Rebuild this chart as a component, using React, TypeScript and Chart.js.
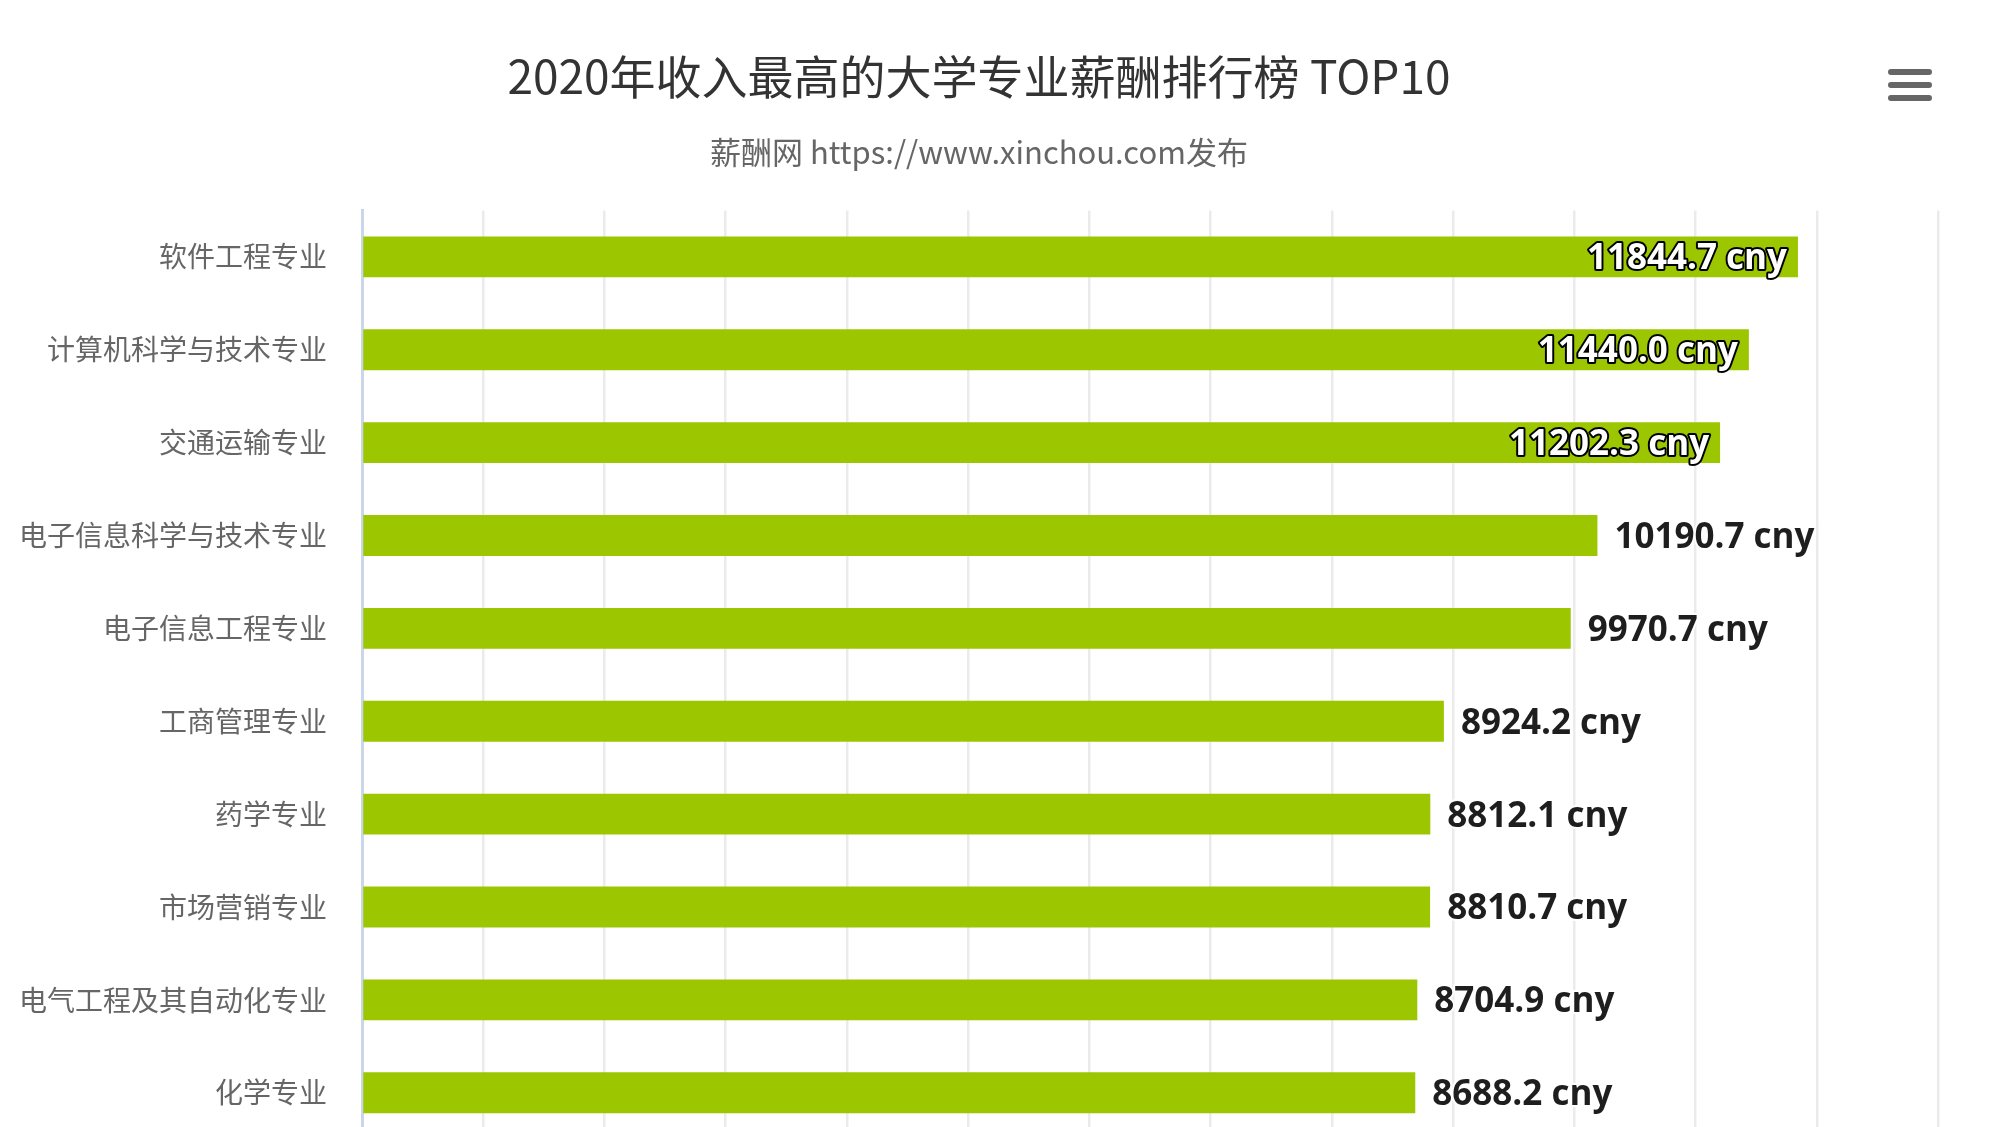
import React, { useEffect, useRef } from "react";
import { Chart, registerables } from "chart.js";

Chart.register(...registerables);

const titleText = "2020年收入最高的大学专业薪酬排行榜 TOP10";
const subtitleText = "薪酬网 https://www.xinchou.com发布";
const majors = [
  "软件工程专业",
  "计算机科学与技术专业",
  "交通运输专业",
  "电子信息科学与技术专业",
  "电子信息工程专业",
  "工商管理专业",
  "药学专业",
  "市场营销专业",
  "电气工程及其自动化专业",
  "化学专业",
];
const salaries = [11844.7, 11440.0, 11202.3, 10190.7, 9970.7, 8924.2, 8812.1, 8810.7, 8704.9, 8688.2];
const unitSuffix = " cny";
const axisMin = 0;
const axisMax = 13000;
const axisStep = 1000;

const CJK = '"Noto Sans CJK SC", "Noto Sans", sans-serif';
const LABEL_FONT = '"Open Sans", "Noto Sans", sans-serif';

const dataLabelPlugin = {
  id: "barValueLabels",
  afterDatasetsDraw(chart: any) {
    const ctx = chart.ctx;
    const meta = chart.getDatasetMeta(0);
    const area = chart.chartArea;
    const size = 35;
    ctx.save();
    ctx.font = `bold ${size}px ${LABEL_FONT}`;
    ctx.lineJoin = "round";
    meta.data.forEach((bar: any, i: number) => {
      const v = chart.data.datasets[0].data[i] as number;
      const text = v.toFixed(1) + unitSuffix;
      const w = ctx.measureText(text).width;
      const y = bar.y + size * 0.357;
      ctx.textBaseline = "alphabetic";
      if (bar.x + 17 + w > area.right - 25) {
        ctx.textAlign = "right";
        ctx.lineWidth = 4;
        ctx.strokeStyle = "#000";
        ctx.strokeText(text, bar.x - 11, y);
        ctx.fillStyle = "#fff";
        ctx.fillText(text, bar.x - 11, y);
      } else {
        ctx.textAlign = "left";
        ctx.lineWidth = 4;
        ctx.strokeStyle = "#fff";
        ctx.strokeText(text, bar.x + 17, y);
        ctx.fillStyle = "#1e1e1e";
        ctx.fillText(text, bar.x + 17, y);
      }
    });
    ctx.restore();
  },
};

const menuIconPlugin = {
  id: "menuIcon",
  afterDraw(chart: any) {
    const ctx = chart.ctx;
    ctx.save();
    ctx.strokeStyle = "#666";
    ctx.lineWidth = 6;
    ctx.lineCap = "round";
    [72, 85, 98].forEach((yy) => {
      ctx.beginPath();
      ctx.moveTo(1891, yy);
      ctx.lineTo(1929, yy);
      ctx.stroke();
    });
    ctx.restore();
  },
};

export default function App() {
  const ref = useRef<HTMLCanvasElement>(null);
  useEffect(() => {
    if (!ref.current) return;
    const chart = new Chart(ref.current, {
      type: "bar",
      data: {
        labels: majors,
        datasets: [
          {
            data: salaries,
            backgroundColor: "#9cc700",
            borderWidth: 0,
            categoryPercentage: 1,
            barPercentage: 0.44,
          },
        ],
      },
      options: {
        indexAxis: "y",
        animation: false,
        responsive: false,
        maintainAspectRatio: false,
        layout: { padding: { left: 20, right: 62, top: 0, bottom: 0 } },
        plugins: {
          legend: { display: false },
          tooltip: { enabled: false },
          title: {
            display: true,
            text: titleText,
            color: "#333",
            font: { family: CJK, size: 46, weight: "normal", lineHeight: 1.2 },
            padding: { top: 49, bottom: 0 },
          },
          subtitle: {
            display: true,
            text: subtitleText,
            color: "#666",
            font: { family: CJK, size: 31, weight: "normal", lineHeight: 1.2 },
            padding: { top: 29, bottom: 40 },
          },
        },
        scales: {
          x: {
            type: "linear",
            position: "bottom",
            min: axisMin,
            max: axisMax,
            ticks: { display: false, stepSize: axisStep },
            grid: {
              drawTicks: false,
              color: (c: any) => (c.index === 0 ? "rgba(0,0,0,0)" : "#ebebeb"),
              lineWidth: 2.5,
            },
            border: { display: false },
          },
          y: {
            type: "category",
            grid: { display: false, drawTicks: false },
            border: { display: true, color: "#ccd6eb", width: 3 },
            ticks: {
              color: "#666",
              padding: 35,
              font: { family: CJK, size: 28 },
            },
            afterFit: (scale: any) => {
              scale.width = 342;
            },
          },
        },
      },
      plugins: [dataLabelPlugin, menuIconPlugin],
    });
    return () => chart.destroy();
  }, []);

  return (
    <div
      style={{
        position: "fixed",
        left: 0,
        top: 0,
        width: 2000,
        height: 1127,
        overflow: "hidden",
        background: "#fff",
      }}
    >
      <canvas ref={ref} width={2000} height={1191} style={{ width: 2000, height: 1191, display: "block" }} />
    </div>
  );
}
